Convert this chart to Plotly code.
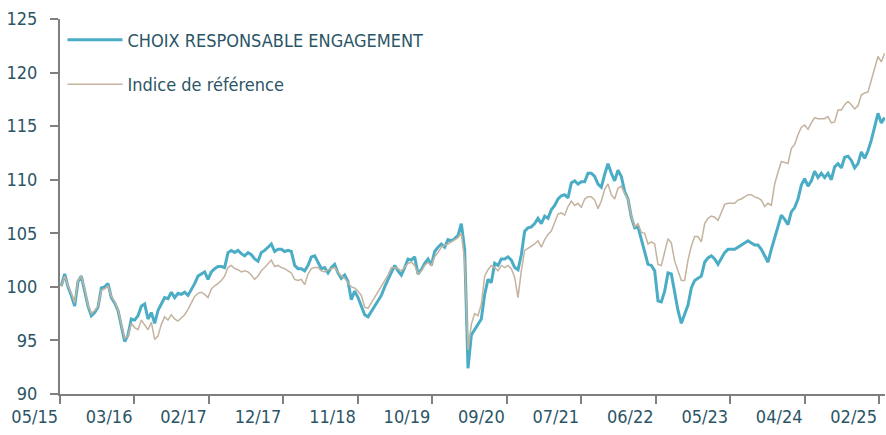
import plotly.graph_objects as go

TICK_LABELS = ["05/15", "03/16", "02/17", "12/17", "11/18", "10/19",
               "09/20", "07/21", "06/22", "05/23", "04/24", "02/25"]
TICK_START = -0.4      # observation index of the first label
TICK_STEP = 22.335     # observations between two labels

FUND_NAME = "CHOIX RESPONSABLE ENGAGEMENT"
BENCH_NAME = "Indice de référence"

FUND = [
    100.1, 101.2, 100.0, 99.2, 98.2, 100.5, 101.0, 99.6, 98.2, 97.3,
    97.6, 98.1, 99.9, 100.0, 100.3, 99.0, 98.5, 97.8, 96.3, 94.9,
    95.5, 97.0, 96.9, 97.3, 98.2, 98.4, 97.0, 97.6, 96.6, 97.8,
    98.4, 99.0, 98.9, 99.5, 99.0, 99.4, 99.3, 99.5, 99.2, 99.7,
    100.3, 101.0, 101.2, 101.4, 100.7, 101.4, 101.7, 101.9, 101.9, 101.8,
    103.2, 103.4, 103.2, 103.4, 103.1, 102.9, 103.2, 103.0, 102.6, 102.4,
    103.2, 103.4, 103.7, 104.0, 103.3, 103.5, 103.5, 103.3, 103.4, 103.3,
    102.0, 101.7, 101.7, 101.5, 102.0, 102.8, 102.9, 102.3, 101.7, 101.8,
    101.3, 101.8, 102.1, 101.3, 100.8, 101.1, 100.5, 98.8, 99.6, 99.0,
    98.2, 97.4, 97.2, 97.7, 98.1, 98.6, 99.2, 100.0, 100.7, 101.4,
    102.0, 101.5, 101.1, 101.8, 102.6, 102.5, 102.8, 101.2, 101.6, 102.2,
    102.6, 102.0, 103.3, 103.7, 104.0, 103.7, 104.4, 104.3, 104.5, 104.8,
    105.9, 103.5, 92.4, 95.5, 96.0, 96.4, 97.0, 99.3, 100.7, 100.4,
    102.2, 102.0, 102.6, 102.6, 102.8, 102.5, 101.8, 101.6, 103.0, 105.2,
    105.5, 105.6, 105.9, 106.4, 105.9, 106.6, 106.4, 107.2, 107.6, 108.2,
    108.5, 108.6, 108.3, 109.7, 109.9, 109.6, 109.8, 109.8, 110.6, 110.6,
    110.3, 109.6, 109.3, 110.5, 111.5, 110.6, 109.9, 110.9, 110.3, 108.9,
    108.2, 106.5, 105.5, 105.6, 104.4, 103.2, 102.1, 102.0, 101.5, 98.7,
    98.6, 99.6, 101.3, 101.2, 99.3, 97.8, 96.6, 97.4, 98.3, 99.9,
    100.6, 100.8, 101.0, 102.3, 102.7, 102.9, 102.6, 102.1, 102.7, 103.2,
    103.5, 103.5, 103.5, 103.7, 103.9, 104.1, 104.3, 104.1, 103.9, 103.9,
    103.5, 102.9, 102.3, 103.5, 104.5, 105.7, 106.7, 106.3, 105.8, 107.0,
    107.4, 108.2, 109.5, 110.1, 109.4, 109.9, 110.8, 110.2, 110.6, 110.2,
    110.6, 110.0, 111.2, 111.5, 111.1, 112.1, 112.2, 111.8, 111.1, 111.5,
    112.6, 112.0, 112.7, 113.7, 115.1, 116.2, 115.3, 115.8,
]

BENCH = [
    100.0, 101.0, 100.1, 99.4, 98.5, 100.6, 101.0, 99.8, 98.3, 97.5,
    97.8, 98.2, 99.7, 99.8, 100.1, 99.1, 98.6, 97.9, 96.5, 95.2,
    95.4, 96.6, 96.2, 96.0, 96.9, 96.4, 96.0, 96.7, 95.1, 95.4,
    96.5, 97.2, 96.9, 97.4, 97.0, 96.8, 97.1, 97.4, 97.9, 98.5,
    99.1, 99.4, 99.5, 99.3, 99.0, 99.8, 100.1, 100.3, 100.6, 101.0,
    101.8, 102.0, 101.7, 101.6, 101.4, 101.5, 101.4, 101.1, 100.7, 101.0,
    101.5, 101.8, 102.2, 102.5, 101.9, 102.0, 101.8, 101.7, 101.5, 101.3,
    100.7, 100.6, 100.7, 100.2, 101.2, 101.7, 101.8, 101.8, 101.5, 101.4,
    101.6, 101.7, 101.8, 101.4, 101.0, 100.8, 100.4, 100.0, 99.9, 99.6,
    99.2, 98.1, 98.0, 98.5, 99.1, 99.6, 100.1, 100.6, 101.1, 101.8,
    101.8, 101.7, 101.5, 101.8, 102.2, 102.3, 102.0, 101.2, 101.5, 102.0,
    102.3, 102.0, 102.8, 103.2, 103.7, 103.9, 104.0, 104.2, 104.4, 104.6,
    105.0, 102.4, 94.1, 96.5, 97.5, 97.3, 98.4, 101.0, 101.6, 102.0,
    101.8, 101.5, 102.0, 101.8, 102.0, 101.7, 100.9, 99.0, 101.5, 103.4,
    103.6, 103.8, 104.0, 104.3, 103.7, 104.4, 104.9, 105.2, 106.0, 106.8,
    106.9, 106.7, 107.5, 108.0, 107.6, 107.8, 107.4, 108.2, 108.4, 108.4,
    108.1, 107.3, 108.0, 109.1, 109.6, 108.6, 108.2, 109.2, 109.4, 108.7,
    108.2, 106.6, 105.6, 105.9, 105.1, 105.0, 104.0, 104.2, 104.0, 102.1,
    102.0, 103.4, 104.5, 104.1, 102.4, 101.5, 100.6, 100.6, 102.5, 103.8,
    104.7, 104.7, 104.2, 105.9, 106.4, 106.6, 106.5, 106.2, 107.0, 107.7,
    107.8, 107.8, 107.8, 108.1, 108.2, 108.4, 108.6, 108.6, 108.4, 108.3,
    108.1, 107.5, 107.8, 107.6, 109.6, 110.7, 111.7, 111.6, 111.5, 112.9,
    113.3, 114.2, 114.9, 115.1, 114.7, 115.3, 115.8, 115.7, 115.7, 115.7,
    115.9, 115.3, 115.4, 116.5, 116.5, 117.0, 117.3, 117.0, 116.6, 116.9,
    117.9, 118.1, 118.2, 119.2, 120.4, 121.5, 121.0, 121.8,
]

OBS = list(range(len(FUND)))
TICK_VALS = [TICK_START + k * TICK_STEP for k in range(len(TICK_LABELS))]

FONT = "DejaVu Sans Condensed, Roboto, sans-serif"
TEXT = "#2b5566"
AXIS = "#7f7f7f"
FS = 18

fig = go.Figure()
fig.add_trace(go.Scatter(x=OBS, y=FUND, mode="lines", name=FUND_NAME,
                         legendgroup="a",
                         line=dict(color="#4BACC6", width=3)))
fig.add_trace(go.Scatter(x=OBS, y=BENCH, mode="lines", name=BENCH_NAME,
                         legendgroup="b",
                         line=dict(color="#C4B39E", width=1.5)))

xr = [TICK_START, 247.1]
yr = [90, 125]

fig.update_layout(
    width=886, height=435,
    margin=dict(l=60, r=1, t=19, b=41, autoexpand=False),
    paper_bgcolor="white", plot_bgcolor="white",
    font=dict(family=FONT, size=FS, color=TEXT),
    showlegend=True,
    legend=dict(x=0.003, y=0.993, xanchor="left", yanchor="top", itemwidth=55,
                bgcolor="rgba(0,0,0,0)", tracegroupgap=18,
                font=dict(family=FONT, size=FS, color=TEXT)),
    xaxis=dict(range=xr, tickmode="array", tickvals=TICK_VALS, ticktext=TICK_LABELS,
               showgrid=False, zeroline=False, showline=True, linecolor=AXIS, linewidth=2,
               ticks="outside", ticklen=8, tickwidth=2, tickcolor=AXIS,
               ticklabelposition="outside left", ticklabelstandoff=5, automargin=False,
               tickfont=dict(family=FONT, size=FS, color=TEXT)),
    yaxis=dict(range=yr, tickmode="linear", tick0=90, dtick=5,
               showgrid=False, zeroline=False, showline=True, linecolor=AXIS, linewidth=2,
               ticks="outside", ticklen=8, tickwidth=2, tickcolor=AXIS,
               ticklabelstandoff=9, automargin=False,
               tickfont=dict(family=FONT, size=FS, color=TEXT)),
    xaxis2=dict(overlaying="x", matches="x", range=xr, tickmode="array", tickvals=TICK_VALS,
                showticklabels=False, showgrid=False, zeroline=False, showline=False,
                ticks="inside", ticklen=8, tickwidth=2, tickcolor=AXIS, anchor="y"),
    yaxis2=dict(overlaying="y", matches="y", range=yr, tickmode="linear", tick0=90, dtick=5,
                showticklabels=False, showgrid=False, zeroline=False, showline=False,
                ticks="inside", ticklen=8, tickwidth=2, tickcolor=AXIS, anchor="x"),
)

fig.write_html("out.html", config={"displayModeBar": False},
               post_script="document.body.style.margin='0';")
